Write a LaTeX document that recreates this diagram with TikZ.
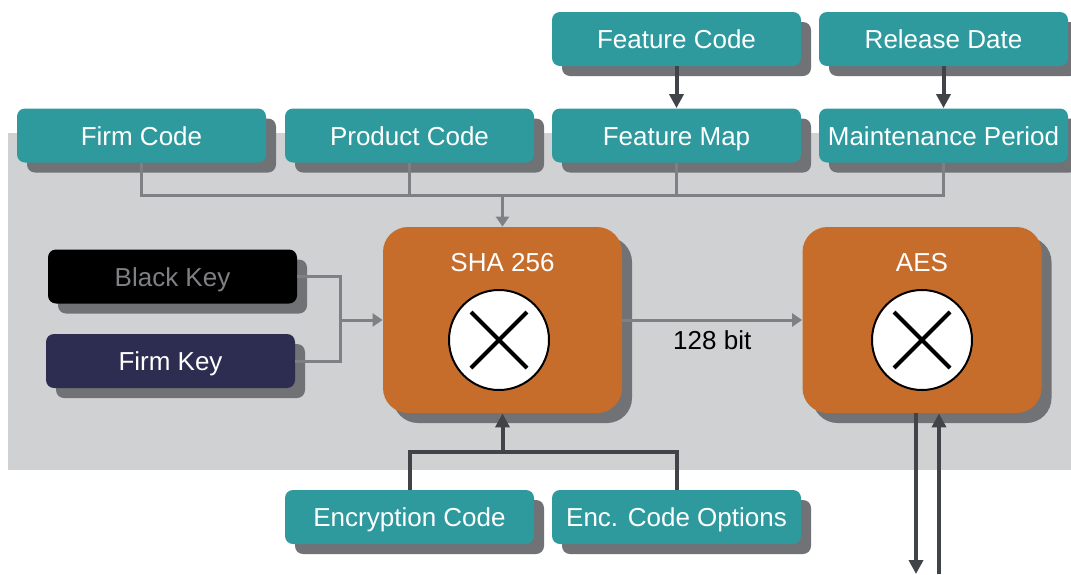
\documentclass[tikz,border=0pt]{standalone}
\usepackage{fontspec}
\setmainfont{Liberation Sans}
\usetikzlibrary{arrows.meta,shadows}

\definecolor{boxteal}{RGB}{46,154,158}
\definecolor{boxorange}{RGB}{199,109,44}
\definecolor{keynavy}{RGB}{45,45,82}
\definecolor{shadegray}{RGB}{112,114,118}
\definecolor{bggray}{RGB}{208,209,211}
\definecolor{linegray}{RGB}{127,128,131}
\definecolor{linedark}{RGB}{64,67,71}

\begin{document}
\begin{tikzpicture}[x=0.5pt,y=-0.5pt,
  tbox/.style={rounded corners=4pt,fill=boxteal,text=white,minimum width=124.5pt,minimum height=27pt,inner sep=0pt,
    text height=11pt,text depth=1.5pt,
    font=\fontsize{13}{15}\selectfont,general shadow={fill=shadegray,shadow xshift=5pt,shadow yshift=-5pt}},
  obox/.style={rounded corners=12.5pt,fill=boxorange,minimum width=119.5pt,minimum height=93pt,
    general shadow={fill=shadegray,shadow xshift=5pt,shadow yshift=-5pt}},
  mult/.style={circle,draw=black,line width=1pt,fill=white,minimum size=50pt,inner sep=0pt,
    path picture={\draw[line width=2pt] (path picture bounding box.center) +(-14pt,-14pt) -- +(14pt,14pt)
      (path picture bounding box.center) +(-14pt,14pt) -- +(14pt,-14pt);}},
  gline/.style={linegray,line width=1.5pt},
  garrow/.style={gline,-{Triangle[length=5pt,width=6.5pt]}},
  dline/.style={linedark,line width=2pt},
  darrow/.style={dline,-{Triangle[length=7pt,width=7pt]}}]
\useasboundingbox (0,0) rectangle (1071,574);
\fill[bggray] (8,133) rectangle (1071,470);

% inputs
\node[tbox] (fcode) at (676.5,39) {Feature Code};
\node[tbox] (rdate) at (943.5,39) {Release Date};
\node[tbox] (firm) at (141.5,135.5) {Firm Code};
\node[tbox] (prod) at (409.5,135.5) {Product Code};
\node[tbox] (fmap) at (676.5,135.5) {Feature Map};
\node[tbox] (maint) at (943.5,135.5) {Maintenance Period};
\node[tbox,fill=black,text=linegray] (bkey) at (172.5,276.5) {Black Key};
\node[tbox,fill=keynavy] (fkey) at (170.5,361) {Firm Key};
\node[tbox] (enc) at (409.5,517) {Encryption Code};
\node[tbox] (encopt) at (676.5,517) {Enc. Code Options};

% blocks
\node[obox] (sha) at (502.5,320) {};
\node[text=white,font=\fontsize{13}{15}\selectfont] (shatitle) at (502.5,263) {SHA 256};
\node[mult] (shamul) at (499,340) {};
\node[obox] (aes) at (922,320) {};
\node[text=white,font=\fontsize{13}{15}\selectfont] (aestitle) at (922,263) {AES};
\node[mult] (aesmul) at (922,340) {};

% connectors
\coordinate (join) at (502.5,195);
\draw[gline] (firm.south) |- (join) -| (maint.south);
\draw[gline] (prod.south) -- (prod.south |- join);
\draw[gline] (fmap.south) -- (fmap.south |- join);
\draw[garrow] (join) -- (sha.north);
\draw[darrow] (fcode) -- (fmap);
\draw[darrow] (rdate) -- (maint);

\coordinate (kjoin) at (340,320);
\draw[gline] (bkey.east) -| (kjoin);
\draw[gline] (fkey.east) -| (kjoin);
\draw[garrow] (kjoin) -- (sha.west);
\draw[garrow] (sha.east) -- (aes.west) node[midway,below=1pt,text=black,font=\fontsize{13}{15}\selectfont] (bits) {128 bit};

\coordinate (ejoin) at (502.5,452);
\draw[dline] (enc.north) |- (ejoin) -| (encopt.north);
\draw[darrow] (ejoin) -- (sha.south);

\coordinate (outlo) at (916,574);
\coordinate (inlo) at (939,574);
\draw[darrow] (aes.south -| outlo) -- (outlo);
\draw[darrow] (inlo) -- (aes.south -| inlo);
\end{tikzpicture}
\end{document}
